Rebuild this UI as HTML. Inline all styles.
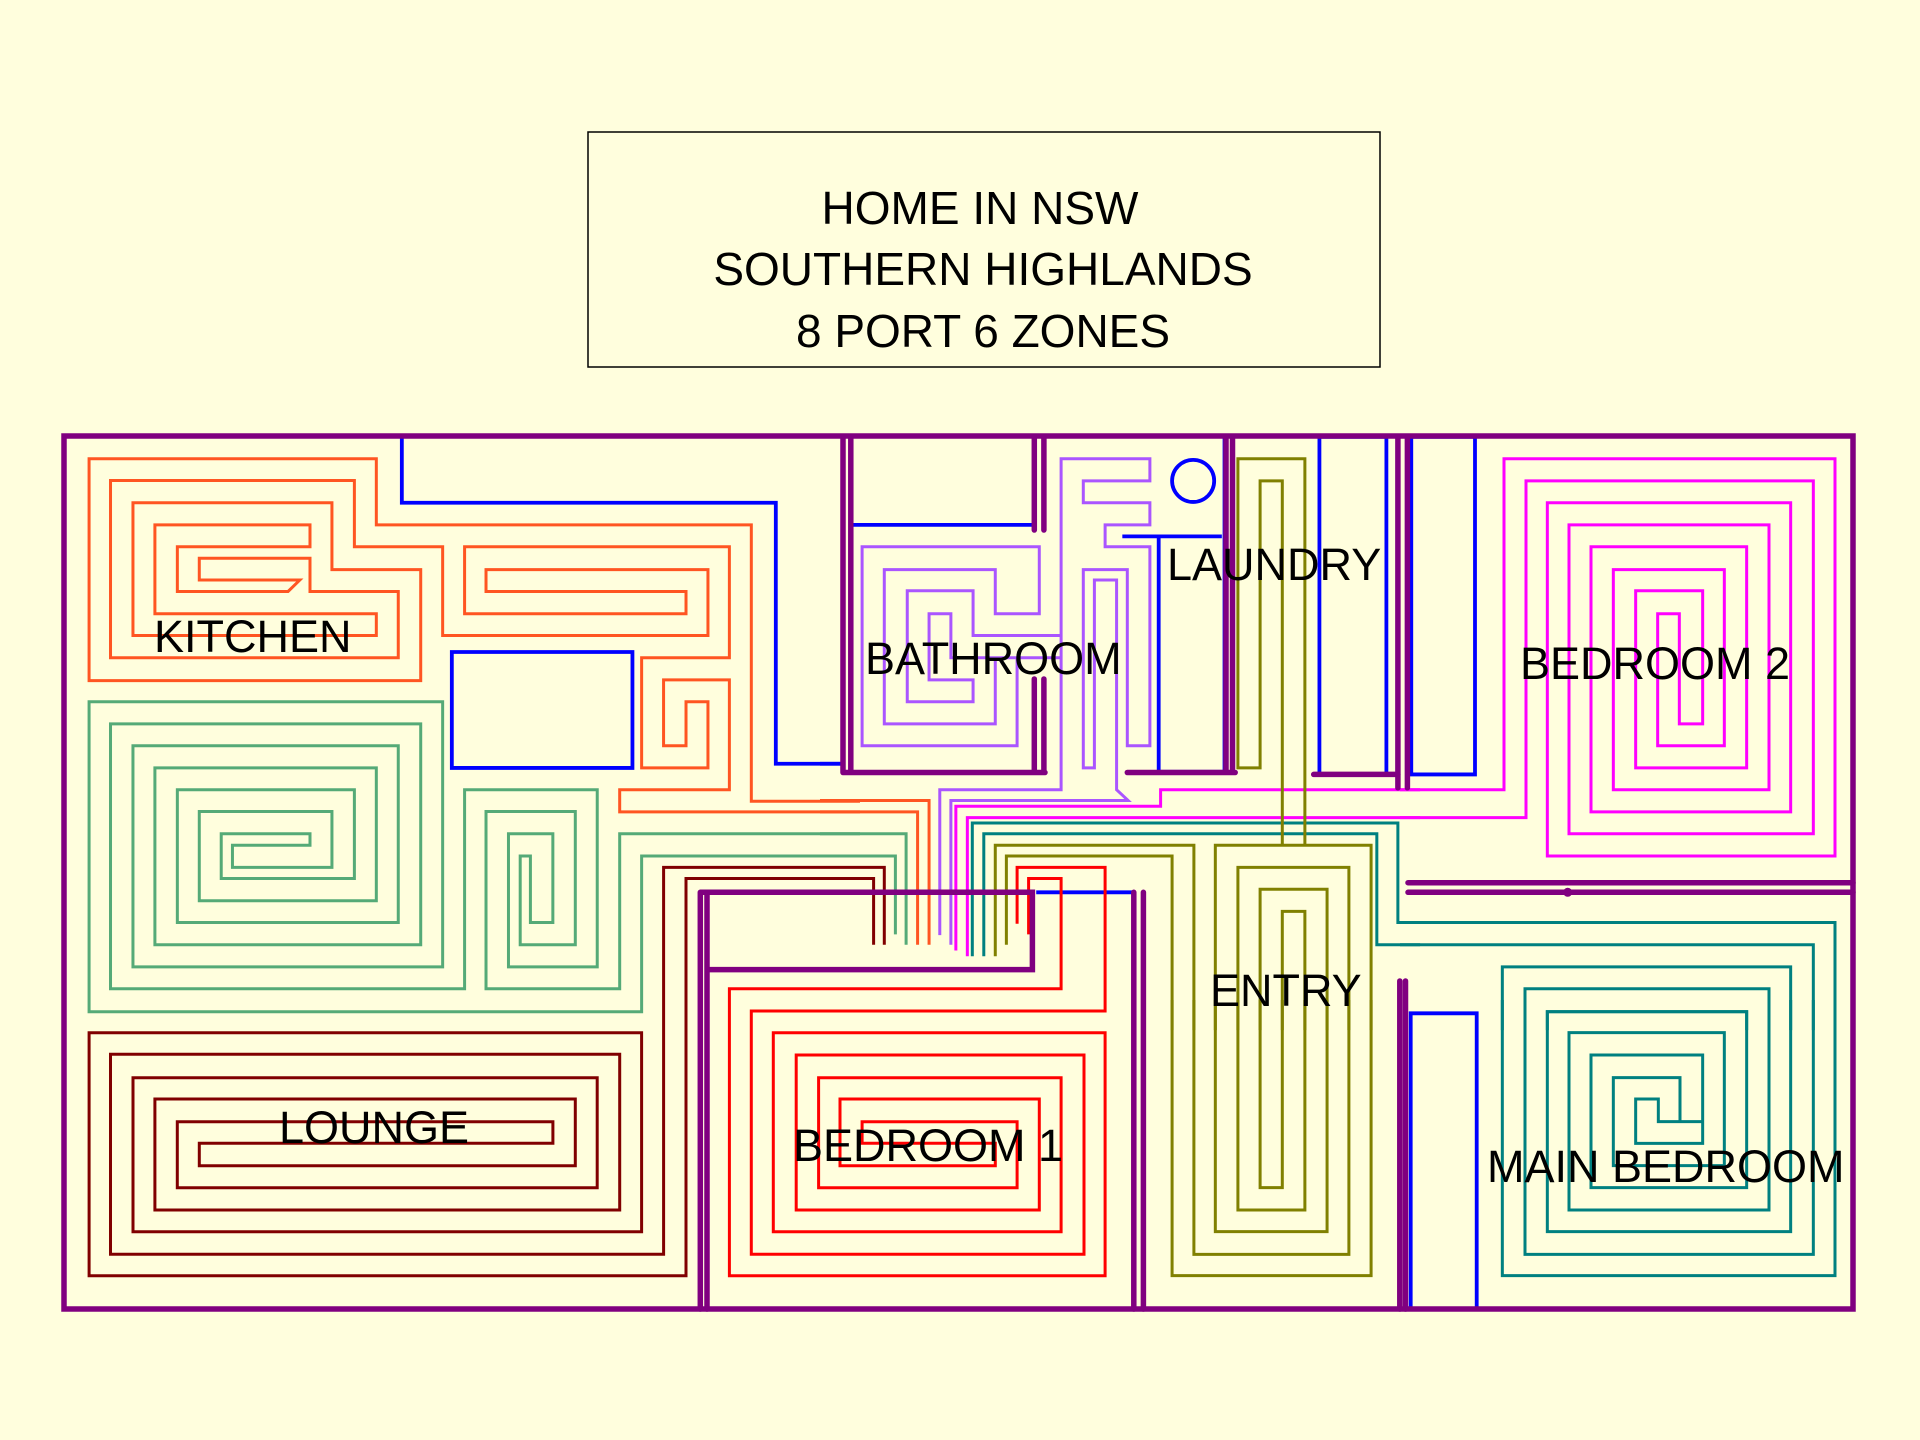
<!DOCTYPE html>
<html><head><meta charset="utf-8"><style>
html,body{margin:0;padding:0;background:#fffedd;}
svg{display:block}
text{font-family:"Liberation Sans",Arial,sans-serif;font-size:45px;fill:#000}
.t{font-size:46px}
.p{fill:none;stroke-width:3;vector-effect:non-scaling-stroke;stroke-linejoin:miter}
.w{fill:none;stroke:#800080;stroke-width:5.5;vector-effect:non-scaling-stroke;stroke-linecap:round}
.b{fill:none;stroke:#0000ff;stroke-width:3.8;vector-effect:non-scaling-stroke}
.or{stroke:#ff5522}.gr{stroke:#55aa77}.mr{stroke:#800000}.rd{stroke:#ff0000}
.lv{stroke:#aa55ff}.mg{stroke:#ff00ff}.tl{stroke:#008080}.ol{stroke:#808000}
</style></head><body>
<svg width="1920" height="1440" viewBox="0 0 1920 1440" xmlns="http://www.w3.org/2000/svg">
<rect width="1920" height="1440" fill="#fffedd"/>
<rect x="588" y="132" width="792" height="235" fill="none" stroke="#000" stroke-width="1.5"/>
<text class="t" x="980" y="224" text-anchor="middle">HOME IN NSW</text>
<text class="t" x="983" y="285" text-anchor="middle">SOUTHERN HIGHLANDS</text>
<text class="t" x="983" y="347" text-anchor="middle">8 PORT 6 ZONES</text>

<g transform="translate(60,430) scale(0.5102,0.3827)">
<path class="p or" d="M1568,970 H1355 V248 H620 V75 H57 V655 H707 V365 H533 V190 H143 V537 H620 V480 H186 V248 H490 V305 H230 V422 H447 L470,392 H273 V335 H490 V422 H663 V595 H99 V132 H577 V305 H750 V537 H1270 V365 H835 V422 H1227 V480 H793 V305 H1312 V595 H1140 V883 H1270 V710 H1227 V825 H1183 V653 H1312 V940 H1097 V998 H1568"/>
<path class="p gr" d="M1568,1055 H1097 V1460 H835 V997 H1010 V1345 H902 V1113 H922 V1287 H966 V1055 H879 V1403 H1053 V940 H793 V1460 H99 V768 H707 V1345 H186 V883 H620 V1230 H273 V997 H533 V1143 H338 V1085 H490 V1055 H316 V1172 H577 V940 H230 V1287 H663 V825 H143 V1403 H750 V710 H57 V1520 H1140 V1113 H1568"/>
<path class="b" d="M670,18 V190 H1403 V872 H1535"/>
<rect class="b" x="768" y="580" width="354" height="303"/>
</g>

<g transform="translate(820,430) scale(0.38270,0.38270)">
<path class="p or" d="M0,968 H285 V1345 M0,998 H255 V1345"/>
<path class="p gr" d="M0,1055 H225 V1345 M0,1113 H197 V1318"/>
<path class="p lv" d="M313,1320 V940 H630 V75 H862 V133 H688 V190 H862 V248 H745 V305 H862 V825 H803 V365 H688 V883 H717 V392 H775 V940 L805,968 H342 V1345"/>
<path class="p lv" d="M630,537 H400 V420 H228 V710 H400 V653 H285 V480 H342 V595 H515 V825 H110 V305 H573 V480 H458 V365 H168 V768 H458 V595 H630"/>
<path class="p mg" d="M355,1360 V983 H890 V940 H1568 M385,1375 V1013 H1568"/>
<path class="p tl" d="M398,1375 V1027 H1510 V1287 H1568 M428,1375 V1055 H1455 V1345 H1568"/>
<path class="p ol" d="M1208,1085 V133 H1150 V883 H1092 V75 H1267 V1085 M1033,1568 V1085 H1440 V1568 M458,1375 V1085 H977 V1568 M487,1345 V1113 H920 V1568 M1092,1568 V1143 H1382 V1568 M1150,1568 V1200 H1325 V1568 M1208,1568 V1258 H1267 V1568"/>
<path class="b" d="M78,248 H565 M0,872 H62 M790,278 H1050 M885,278 V893 H1060 M1057,18 V893 M565,1208 H820"/>
<circle class="b" cx="975" cy="133" r="55"/>
<rect class="b" x="1305" y="18" width="175" height="882"/>
<path class="b" d="M1545,18 V900"/>
</g>

<g transform="translate(1400,430) scale(0.33333,0.38270)">
<path class="p mg" d="M0,940 H312 V75 H1305 V1113 H442 V190 H1172 V998 H573 V305 H1040 V883 H707 V420 H908 V768 H838 V480 H773 V825 H973 V365 H640 V940 H1107 V248 H507 V1055 H1240 V133 H378 V1013 H0"/>
<path class="p tl" d="M0,1287 H1305 V1568 M0,1345 H1240 V1568 M307,1568 V1403 H1172 V1568 M375,1568 V1460 H1107 V1568 M442,1568 V1520 H1040 V1568"/>
<rect class="b" x="22" y="18" width="203" height="882"/>
</g>

<g transform="translate(820,1000) scale(0.38270,0.33333)">
<path class="p ol" d="M920,0 V827 H1440 V0 M977,0 V763 H1382 V0 M1033,0 V695 H1325 V0 M1092,0 V630 H1267 V0 M1150,0 V563 H1208 V0"/>
</g>

<g transform="translate(1400,1000) scale(0.33333,0.33333)">
<path class="p tl" d="M1305,0 V827 H307 V0 M1240,0 V763 H375 V0 M1172,0 V695 H442 V35 H1040 V563 H573 V165 H908 V430 H707 V297 H775 V365 H908 M1107,0 V630 H507 V98 H973 V497 H640 V233 H840 V365"/>
</g>

<path class="p rd" d="M1028.6,934.4 V878.5 H1061.1 V988.7 H729.4 V1275.7 H1105.1 V1032.7 H773.3 V1231.7 H1061.1 V1077.7 H818.6 V1187.7 H1017.1 V1121.7 H862.1 V1143.3 H995.3 V1165.7 H840 V1099 H1039.3 V1210 H796.2 V1055 H1084 V1254.3 H751.3 V1011 H1105.1 V867.4 H1017.1 V923.7"/>
<path class="p mr" d="M873.6,944.7 V878.5 H686 V1275.7 H89.1 V1032.7 H641.6 V1231.7 H133 V1077.7 H597.2 V1187.7 H177.3 V1121.7 H552.9 V1143.3 H199.3 V1165.7 H575.3 V1099 H154.9 V1210 H619.7 V1054.3 H110.5 V1254.3 H663.6 V867.4 H884.3 V944.7"/>

<rect class="b" x="1410.7" y="1013.3" width="66" height="296"/>

<rect class="w" x="64" y="436" width="1789" height="873"/>
<path class="w" d="M843,437 V772.5 M850.8,437 V772.5 M843,772.5 H1045 M1034.3,437 V530 M1043.9,437 V530 M1034.3,679 V772.5 M1043.9,679 V772.5 M1127.3,772.5 H1235.2 M1232.5,437 V772.5 M1226,437 V772.5 M1397.9,437 V787.8 M1407.4,437 V787.8 M1313.7,774.4 H1398"/>
<path class="w" d="M700.3,892.3 V1309 M707,892.3 V1309 M700.3,892.3 H1032.4 V969.6 H707 M1133.8,892.3 V1309 M1143.4,892.3 V1309 M1399.8,981 V1309 M1405.5,981 V1309 M1408,882.7 H1853 M1408,892.3 H1853"/>
<circle cx="1567.7" cy="892.3" r="4.5" fill="#800080"/>

<text x="154" y="652">KITCHEN</text>
<text x="865" y="674">BATHROOM</text>
<text x="1167" y="580">LAUNDRY</text>
<text x="1520" y="679">BEDROOM 2</text>
<text x="1210" y="1006">ENTRY</text>
<text x="279" y="1143">LOUNGE</text>
<text x="793" y="1161">BEDROOM 1</text>
<text x="1487" y="1182">MAIN BEDROOM</text>
</svg>
</body></html>
